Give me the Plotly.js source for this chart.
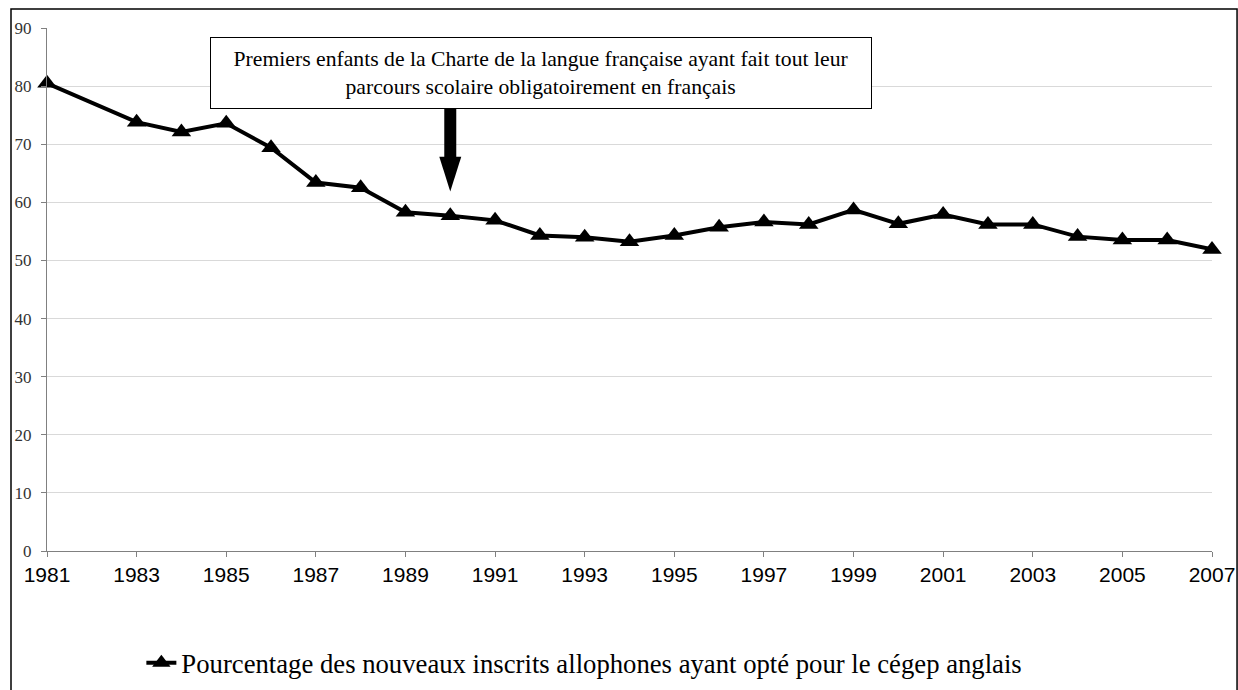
<!DOCTYPE html>
<html>
<head>
<meta charset="utf-8">
<script src="https://cdn.plot.ly/plotly-3.0.1.min.js"></script>
<style>html,body{margin:0;padding:0;background:#fff;}#chart{width:1238px;height:690px;}</style>
</head>
<body>
<div id="chart"></div>
<script>
const years = [1981,1983,1984,1985,1986,1987,1988,1989,1990,1991,1992,1993,1994,1995,1996,1997,1998,1999,2000,2001,2002,2003,2004,2005,2006,2007];
const pct = [80.5,73.8,72.1,73.6,69.4,63.4,62.5,58.3,57.7,56.9,54.3,54.0,53.2,54.3,55.7,56.6,56.2,58.7,56.3,57.9,56.2,56.2,54.1,53.5,53.5,51.9];
const seriesName = "Pourcentage des nouveaux inscrits allophones ayant opté pour le cégep anglais";
const noteText = "Premiers enfants de la Charte de la langue française ayant fait tout leur<br>parcours scolaire obligatoirement en français";
const noteYear = 1990;

const trace = {
  x: years, y: pct, name: seriesName, type: 'scatter', mode: 'lines+markers',
  line: {color: '#000', width: 4},
  marker: {symbol: 'triangle-up', size: 17, color: '#000'},
  cliponaxis: false
};

const layout = {
  width: 1238, height: 690,
  margin: {l: 47, r: 26, t: 28, b: 139, autoexpand: false},
  paper_bgcolor: '#fff', plot_bgcolor: '#fff',
  showlegend: true,
  legend: {orientation: 'h', x: 0.081, xanchor: 'left', y: -0.214, yanchor: 'middle',
    font: {family: 'Liberation Serif, serif', size: 26.7, color: '#000'}, bgcolor: 'rgba(0,0,0,0)'},
  xaxis: {
    range: [1981, 2007], tick0: 1981, dtick: 2, showgrid: false, zeroline: false,
    showline: true, linecolor: '#808080', linewidth: 1,
    ticks: 'outside', ticklen: 5, tickcolor: '#808080', ticklabelstandoff: 0,
    tickfont: {family: 'Liberation Sans, Arial, sans-serif', size: 21, color: '#000'}
  },
  yaxis: {
    range: [0, 90], dtick: 10, showgrid: true, gridcolor: '#d9d9d9', gridwidth: 1, zeroline: false,
    showline: true, linecolor: '#808080', linewidth: 1,
    ticks: 'outside', ticklen: 5, tickcolor: '#808080', ticklabelstandoff: 6,
    tickfont: {family: 'Liberation Serif, serif', size: 17, color: '#333'}
  },
  annotations: [{
    text: noteText, xref: 'x', yref: 'y', x: 1992.02, y: 82.3, xanchor: 'center', yanchor: 'middle',
    showarrow: false, width: 658, height: 68, align: 'center',
    bordercolor: '#000', borderwidth: 1, borderpad: 1, bgcolor: '#fff',
    font: {family: 'Liberation Serif, serif', size: 21.7, color: '#000'}
  }],
  shapes: [
    {type: 'line', xref: 'x', yref: 'y', x0: noteYear, x1: noteYear, y0: 76.4, y1: 67.5, line: {color: '#000', width: 12}},
    {type: 'path', xref: 'x', yref: 'y', path: 'M 1989.755 67.85 L 1990.245 67.85 L 1990 61.85 Z', fillcolor: '#000', line: {color: '#000', width: 0}},
    {type: 'rect', xref: 'paper', yref: 'paper', x0: -0.0309, x1: 1.0215, y0: -0.3, y1: 1.0363, line: {color: '#000', width: 1.5}, fillcolor: 'rgba(0,0,0,0)', layer: 'below'}
  ]
};

Plotly.newPlot('chart', [trace], layout, {displayModeBar: false, staticPlot: true});
</script>
</body>
</html>
